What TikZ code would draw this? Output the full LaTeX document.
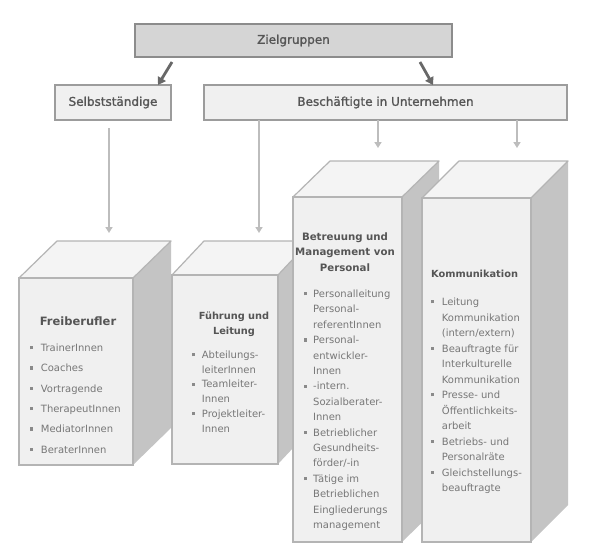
\documentclass[tikz,border=0pt]{standalone}
\usepackage{fontspec}
\setmainfont{DejaVu Sans}
\newfontfamily\headfont[FakeBold=1.2]{DejaVu Sans}
\usetikzlibrary{arrows.meta,calc}
\definecolor{zielfill}{HTML}{D5D5D5}
\definecolor{zieldraw}{HTML}{8C8C8C}
\definecolor{boxfill}{HTML}{F0F0F0}
\definecolor{boxdraw}{HTML}{9C9C9C}
\definecolor{frontfill}{HTML}{F0F0F0}
\definecolor{topfill}{HTML}{F4F4F4}
\definecolor{sidefill}{HTML}{C4C4C4}
\definecolor{cubedraw}{HTML}{B4B4B4}
\definecolor{headtext}{HTML}{555555}
\definecolor{titletext}{HTML}{555555}
\definecolor{itemtext}{HTML}{777777}
\definecolor{bulc}{HTML}{8A8A8A}
\definecolor{darkarrow}{HTML}{686868}
\definecolor{lightarrow}{HTML}{BDBDBD}
\newcommand\bul{\textcolor{bulc}{\rule[2.2pt]{3.2pt}{3.2pt}}}
\newcommand\blist[2]{\begin{tabular}[t]{@{}l@{\hspace{#1}}l@{}}#2\end{tabular}}
\newcommand\ctab[1]{\begin{tabular}[t]{@{}c@{}}#1\end{tabular}}
\newcommand\mycube[7]{%
 \path[sideface] (#4,#3) -- ++(#6,#7) -- ($(#4,#5)+(#6,#7)$) -- (#4,#5) -- cycle;
 \path[topface] (#2,#3) -- ++(#6,#7) -- ($(#4,#3)+(#6,#7)$) -- (#4,#3) -- cycle;
 \node[frontface, minimum width={(#4-#2)*1pt}, minimum height={(#5-#3)*1pt}] (#1) at ({(#2+#4)/2},{(#3+#5)/2}) {};
}
\tikzset{
 ziel/.style={fill=zielfill, draw=zieldraw, line width=1.6pt, inner sep=0, outer sep=0, text=headtext, font=\headfont\fontsize{12}{14}\selectfont},
 hbox/.style={fill=boxfill, draw=boxdraw, line width=1.6pt, inner sep=0, outer sep=0, text=headtext, font=\headfont\fontsize{12}{14}\selectfont},
 sideface/.style={fill=sidefill},
 topface/.style={fill=topfill, draw=cubedraw, line width=1.2pt, line join=round},
 frontface/.style={fill=frontfill, draw=cubedraw, line width=1.5pt, inner sep=0, outer sep=0},
 darr/.style={draw=darkarrow, line width=2.8pt, -{Triangle[length=7.5pt,width=9pt]}},
 larr/.style={draw=lightarrow, line width=2pt, -{Triangle[length=6pt,width=7pt]}},
 titlen/.style={inner sep=0, text=titletext, font=\bfseries},
 listn/.style={anchor=base west, inner sep=0, text=itemtext}
}
\begin{document}
\begin{tikzpicture}[x=1pt,y=-1pt]
\fill[white] (0,0) rectangle (590,555);
\path[use as bounding box] (0,0) rectangle (590,555);

% header boxes
\node[ziel, minimum width=317pt, minimum height=33pt] (ziel) at (293.5,40.5) {Zielgruppen};
\node[hbox, minimum width=116pt, minimum height=35pt] (selb) at (113,102.5) {Selbstständige};
\node[hbox, minimum width=363pt, minimum height=35pt] (besch) at (385.5,102.5) {Beschäftigte in Unternehmen};

% cuboids
\mycube{fb}{19}{278}{133}{465}{38}{-37}
\mycube{fl}{172}{275}{278}{464}{32}{-34}
\mycube{bm}{293}{197}{402}{542}{37}{-36}
\mycube{ko}{422}{198}{531}{542}{37}{-37}

% arrows
\draw[darr] ($(ziel.south west)+(37,5)$) -- ($(selb.north east)+(-13,0)$);
\draw[darr] ($(ziel.south east)+(-32,5)$) -- ($(besch.north west)+(229,0)$);
\draw[larr] ($(selb.south)+(-4,8)$) -- ($(fb.north)+(33,-45)$);
\draw[larr] ($(besch.south west)+(55,0)$) -- ($(fl.north)+(34,-42)$);
\draw[larr] ($(besch.south west)+(174,0)$) -- ($(bm.north)+(30.5,-49)$);
\draw[larr] ($(besch.south west)+(313,0)$) -- ($(ko.north)+(40.5,-50)$);

% Freiberufler
\node[titlen, anchor=base, font=\bfseries\fontsize{11.5}{14}\selectfont] (fbt) at (78,325) {Freiberufler};
\node[listn, font=\fontsize{10}{20.3}\selectfont] (fbl) at (29.5,351.5) {\blist{8pt}{%
\bul & TrainerInnen\\
\bul & Coaches\\
\bul & Vortragende\\
\bul & TherapeutInnen\\
\bul & MediatorInnen\\
\bul & BeraterInnen}};

% Fuehrung
\node[titlen, anchor=base, font=\bfseries\fontsize{9.8}{15}\selectfont] (flt) at (234,319) {\ctab{Führung und\\Leitung}};
\node[listn, font=\fontsize{10}{14.7}\selectfont] (fll) at (191.5,358.5) {\blist{7pt}{%
\bul & Abteilungs-\\
 & leiterInnen\\
\bul & Teamleiter-\\
 & Innen\\
\bul & Projektleiter-\\
 & Innen}};

% Betreuung
\node[titlen, anchor=base, font=\bfseries\fontsize{10.2}{15.5}\selectfont] (bmt) at (345,240) {\ctab{Betreuung und\\Management von\\Personal}};
\node[listn, font=\fontsize{10}{15.4}\selectfont] (bml) at (303.5,297.5) {\blist{6.3pt}{%
\bul & Personalleitung\\
 & Personal-\\
 & referentInnen\\
\bul & Personal-\\
 & entwickler-\\
 & Innen\\
\bul & -intern.\\
 & Sozialberater-\\
 & Innen\\
\bul & Betrieblicher\\
 & Gesundheits-\\
 & förder/-in\\
\bul & Tätige im\\
 & Betrieblichen\\
 & Eingliederungs\\
 & management}};

% Kommunikation
\node[titlen, anchor=base west, font=\bfseries\fontsize{9.8}{14}\selectfont] (kot) at (431,277) {Kommunikation};
\node[listn, font=\fontsize{10}{15.5}\selectfont] (kol) at (430.5,305.5) {\blist{8pt}{%
\bul & Leitung\\
 & Kommunikation\\
 & (intern/extern)\\
\bul & Beauftragte für\\
 & Interkulturelle\\
 & Kommunikation\\
\bul & Presse- und\\
 & Öffentlichkeits-\\
 & arbeit\\
\bul & Betriebs- und\\
 & Personalräte\\
\bul & Gleichstellungs-\\
 & beauftragte}};
\end{tikzpicture}
\end{document}
